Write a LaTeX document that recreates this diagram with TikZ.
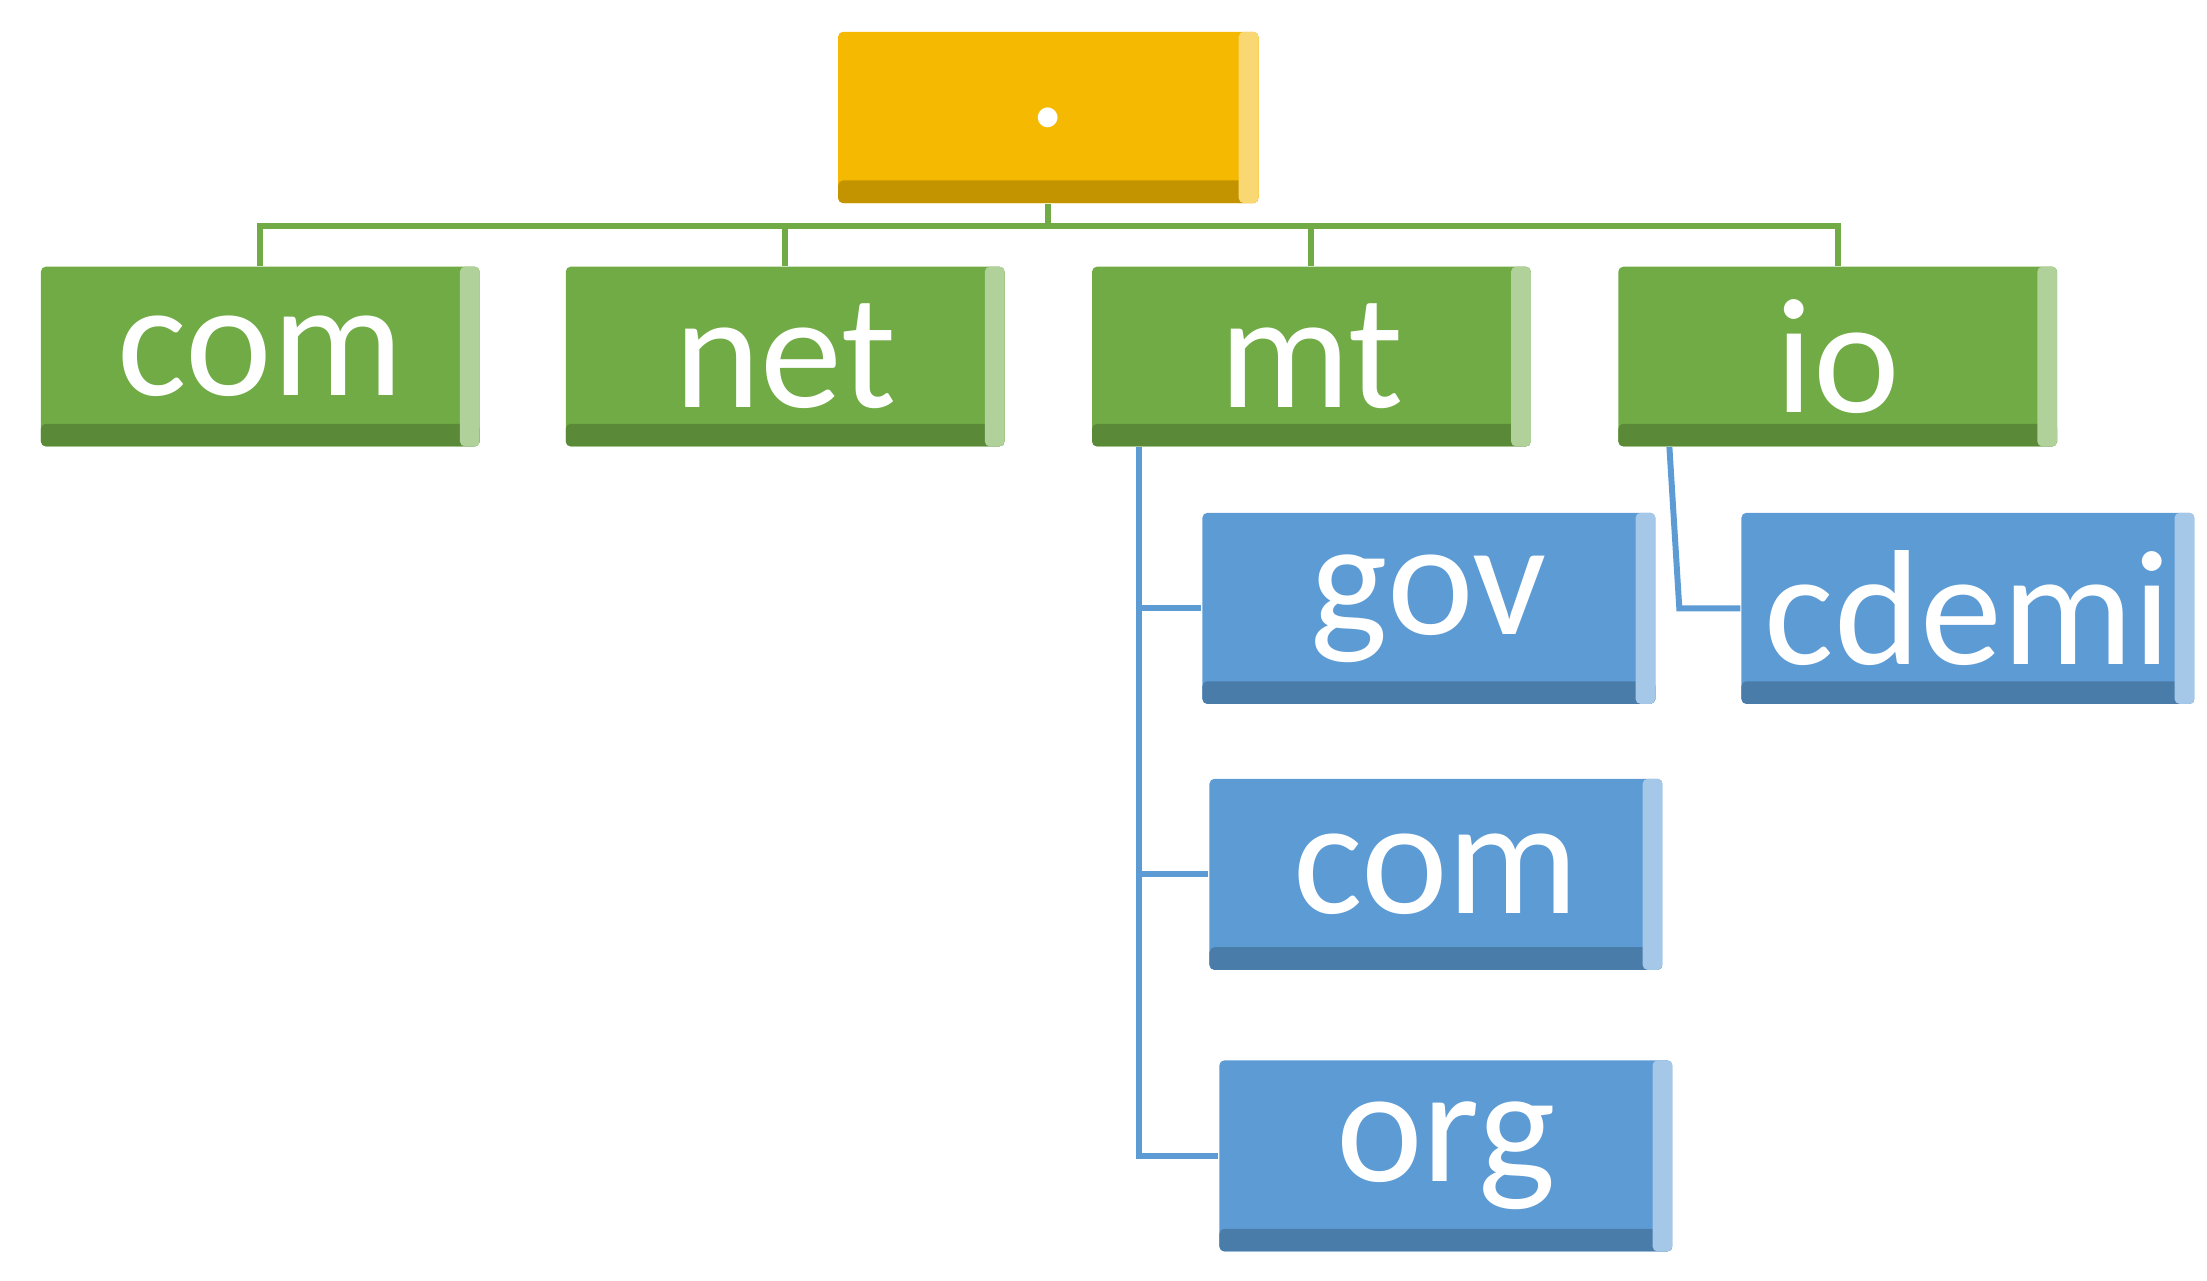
\documentclass[tikz,border=0pt]{standalone}
\usepackage{fontspec}
\setmainfont{Carlito}
\definecolor{rootfill}{RGB}{244,185,0}
\definecolor{greenfill}{RGB}{112,171,70}
\definecolor{bluefill}{RGB}{93,155,213}
\begin{document}
\begin{tikzpicture}[x=0.01cm,y=-0.01cm,
  box/.style={rectangle,inner sep=0pt,text=white,font=\fontsize{33}{36}\selectfont,
    rounded corners=1pt},
  bevel/.style={fill=#1,path picture={
    \fill[#1!80!black] (path picture bounding box.south west) rectangle
      ([yshift=0.16cm]path picture bounding box.south east);
    \fill[#1!55!white] ([xshift=-0.14cm]path picture bounding box.south east) rectangle
      (path picture bounding box.north east);}},
  rootbox/.style={box,bevel=rootfill,minimum width=2.97cm,minimum height=1.21cm},
  topbox/.style={box,bevel=greenfill,minimum width=3.10cm,minimum height=1.27cm},
  subbox/.style={box,bevel=bluefill,minimum width=3.20cm,minimum height=1.35cm},
  gline/.style={draw=greenfill,line width=1.2pt},
  bline/.style={draw=bluefill,line width=1.2pt}
  ]
	\useasboundingbox (0,0) rectangle (1560,905);

	\node[rootbox] (root) at (741,83) {.};

	\node[topbox] (com) at (184,252) {com};
	\node[topbox] (net) at (555,252) {net};
	\node[topbox] (mt) at (927,252) {mt};
	\node[topbox] (io) at (1299,252) {io};

	\node[subbox] (gov) at (1010,430) {gov};
	\node[subbox] (mtcom) at (1015,618) {com};
	\node[subbox] (org) at (1022,817) {org};
	\node[subbox] (cdemi) at (1391,430) {cdemi};

	\coordinate (bus) at (741,160);
	\coordinate (spine) at (805,316);
	\coordinate (iospine) at (1180,316);
	\draw[gline] (root.south) -- (bus);
	\draw[gline] (com.north) |- (bus);
	\draw[gline] (net.north) |- (bus);
	\draw[gline] (mt.north) |- (bus);
	\draw[gline] (io.north) |- (bus);

	\draw[bline] (spine) |- (org.west);
	\draw[bline] (gov.west -| spine) -- (gov.west);
	\draw[bline] (mtcom.west -| spine) -- (mtcom.west);
	\draw[bline] (iospine) -- ([xshift=0.07cm]cdemi.west -| iospine) -- (cdemi.west);
\end{tikzpicture}
\end{document}
